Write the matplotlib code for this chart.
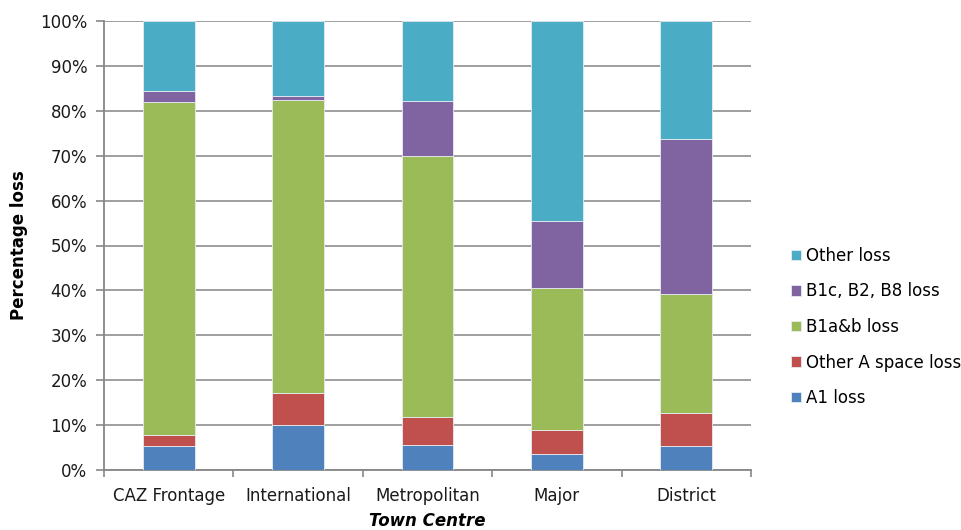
import matplotlib.pyplot as plt
import numpy as np
from matplotlib.ticker import PercentFormatter

# Share of floorspace loss by use class, per town centre type (percent)
centres = ["CAZ Frontage", "International", "Metropolitan", "Major", "District"]
a1_loss = [5.4, 10.0, 5.6, 3.5, 5.3]
other_a_loss = [2.4, 7.2, 6.2, 5.4, 7.4]
b1ab_loss = [74.2, 65.2, 58.1, 31.6, 26.4]
b1c_b2_b8_loss = [2.4, 0.8, 12.2, 15.0, 34.6]
other_loss = [15.6, 16.8, 17.9, 44.5, 26.3]

series = [
    ("A1 loss", a1_loss, "#4F81BD"),
    ("Other A space loss", other_a_loss, "#C0504D"),
    ("B1a&b loss", b1ab_loss, "#9BBB59"),
    ("B1c, B2, B8 loss", b1c_b2_b8_loss, "#8064A2"),
    ("Other loss", other_loss, "#4BACC6"),
]

plt.rcParams["font.family"] = ["DejaVu Sans"]

fig = plt.figure(figsize=(9.62, 5.30), dpi=100)
ax = fig.add_axes([104 / 962, 1 - 470 / 530, (751 - 104) / 962, (470 - 21) / 530])

x = np.arange(len(centres))
bottom = np.zeros(len(centres))
handles = []
for label, values, color in series:
    bars = ax.bar(x, values, width=0.4, bottom=bottom, color=color,
                  edgecolor="#e6ecf2", linewidth=0.6, label=label, zorder=3)
    handles.append(bars)
    bottom += np.array(values)

ax.set_xlim(-0.5, len(centres) - 0.5)
ax.set_ylim(0, 100)
ax.set_yticks(np.arange(0, 101, 10))
ax.yaxis.set_major_formatter(PercentFormatter(decimals=0))
ax.set_xticks(x)
ax.set_xticklabels(centres)
ax.set_xticks(np.arange(-0.5, len(centres)), minor=True)
ax.tick_params(axis="x", which="major", length=0, pad=12, labelsize=12, labelcolor="#1a1a1a")
ax.tick_params(axis="x", which="minor", length=5, width=1.2, color="#878787")
ax.tick_params(axis="y", length=6, width=1.2, color="#878787", labelsize=12,
               pad=6, labelcolor="#1a1a1a")

ax.grid(axis="y", color="#8f8f8f", linewidth=1.2, zorder=0)
for side in ("top", "right"):
    ax.spines[side].set_visible(False)
for side in ("left", "bottom"):
    ax.spines[side].set_color("#878787")
    ax.spines[side].set_linewidth(1.3)

ax.set_ylabel("Percentage loss", fontsize=12, fontweight="bold", labelpad=9)
ax.set_xlabel("Town Centre", fontsize=12, fontweight="bold", style="italic", labelpad=5)

ax.legend(handles[::-1], [s[0] for s in series][::-1], loc="center left",
          bbox_to_anchor=(776 / 962, 1 - 327 / 530), bbox_transform=fig.transFigure,
          frameon=False, fontsize=12, handlelength=0.6, handleheight=0.6,
          handletextpad=0.3, labelspacing=1.05)

fig.savefig("out.png", dpi=100)
